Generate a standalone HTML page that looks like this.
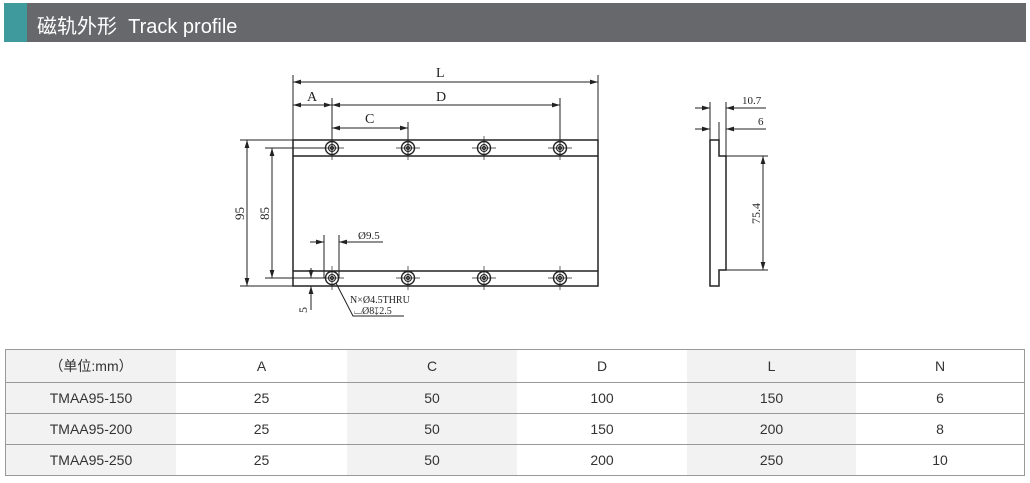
<!DOCTYPE html>
<html><head><meta charset="utf-8"><style>
body{margin:0;width:1030px;height:483px;background:#fff;overflow:hidden;position:relative;font-family:"Liberation Sans","Noto Sans CJK SC",sans-serif}
.bar{position:absolute;left:4px;top:3px;width:1022px;height:39px;background:#67686c}
.bar .t{position:absolute;left:0;top:0;width:23px;height:39px;background:#3e9a9c}
.bar span{position:absolute;left:33px;top:7px;color:#fff;font-size:20px}
table{position:absolute;left:5px;top:349px;width:1020px;border-collapse:collapse;font-size:14px;color:#333}
td{border-top:1px solid #999;border-bottom:1px solid #999;text-align:center;height:30px;padding:0}
tr:first-child td{height:32px}
table{border-left:1px solid #999;border-right:1px solid #999}
.g{background:#f2f2f2}
</style></head><body>
<div class="bar"><div class="t"></div><span>磁轨外形&nbsp; Track profile</span></div>
<svg width="1030" height="483" style="position:absolute;left:0;top:0" font-family="Liberation Serif,serif" font-size="11" fill="#222">
<defs><marker id="a" viewBox="0 0 10 6" refX="10" refY="3" markerWidth="8" markerHeight="5" orient="auto-start-reverse"><path d="M0,0L10,3L0,6z" fill="#222"/></marker>
<g id="h" stroke="#222" fill="none"><circle r="6.5" stroke-width="1.4"/><circle r="3.5" stroke-width="1.1"/><circle r="1.5"/><line x1="-12" y1="0" x2="12" y2="0" stroke-width="0.7"/><line x1="0" y1="-12" x2="0" y2="12" stroke-width="0.7"/></g>
</defs>
<g stroke="#222" stroke-width="1" fill="none">
<rect x="293" y="140" width="305" height="146" stroke-width="1.5"/>
<line x1="293" y1="156" x2="598" y2="156" stroke-width="1.5"/>
<line x1="293" y1="271" x2="598" y2="271" stroke-width="1.5"/>
<line x1="293" y1="75" x2="293" y2="140"/><line x1="598" y1="75" x2="598" y2="140"/>
<line x1="293" y1="82" x2="598" y2="82" marker-start="url(#a)" marker-end="url(#a)"/>
<line x1="293" y1="105" x2="332" y2="105" marker-start="url(#a)" marker-end="url(#a)"/>
<line x1="332" y1="105" x2="560" y2="105" marker-start="url(#a)" marker-end="url(#a)"/>
<line x1="332" y1="98" x2="332" y2="155"/><line x1="560" y1="98" x2="560" y2="155"/><line x1="408" y1="122" x2="408" y2="155"/>
<line x1="332" y1="128" x2="408" y2="128" marker-start="url(#a)" marker-end="url(#a)"/>
<line x1="240" y1="140" x2="293" y2="140"/><line x1="240" y1="286" x2="293" y2="286"/>
<line x1="247" y1="140" x2="247" y2="286" marker-start="url(#a)" marker-end="url(#a)"/>
<line x1="265" y1="148" x2="325" y2="148"/><line x1="265" y1="278" x2="325" y2="278"/>
<line x1="272" y1="148" x2="272" y2="278" marker-start="url(#a)" marker-end="url(#a)"/>
<line x1="324" y1="235" x2="324" y2="278"/><line x1="339" y1="235" x2="339" y2="278"/>
<line x1="310" y1="242" x2="324" y2="242" marker-end="url(#a)"/><line x1="383" y1="242" x2="339" y2="242" marker-end="url(#a)"/>
<line x1="311" y1="268" x2="311" y2="278" marker-end="url(#a)"/><line x1="311" y1="310" x2="311" y2="286" marker-end="url(#a)"/>
<polyline points="336,283 353,316 404,316"/>
<polygon points="710,140 719,140 719,156 726,156 726,270 719,270 719,286 710,286" stroke-width="1.5"/>
<line x1="710" y1="102" x2="710" y2="140"/><line x1="726" y1="102" x2="726" y2="156"/><line x1="719" y1="122" x2="719" y2="140"/>
<line x1="695" y1="108" x2="710" y2="108" marker-end="url(#a)"/><line x1="766" y1="108" x2="726" y2="108" marker-end="url(#a)"/>
<line x1="695" y1="129" x2="710" y2="129" marker-end="url(#a)"/><line x1="766" y1="129" x2="726" y2="129" marker-end="url(#a)"/>
<line x1="726" y1="156" x2="768" y2="156"/><line x1="726" y1="270" x2="768" y2="270"/>
<line x1="763" y1="156" x2="763" y2="270" marker-start="url(#a)" marker-end="url(#a)"/>
</g>
<use href="#h" x="332" y="148"/><use href="#h" x="408" y="148"/><use href="#h" x="484" y="148"/><use href="#h" x="560" y="148"/>
<use href="#h" x="332" y="278"/><use href="#h" x="408" y="278"/><use href="#h" x="484" y="278"/><use href="#h" x="560" y="278"/>
<g font-size="14">
<text x="436" y="77">L</text><text x="307" y="101">A</text><text x="436" y="101">D</text><text x="365" y="123">C</text>
</g>
<text transform="translate(244,220) rotate(-90)" font-size="13">95</text>
<text transform="translate(269,220) rotate(-90)" font-size="13">85</text>
<text x="358" y="239" font-size="11">Ø9.5</text>
<text transform="translate(307,313) rotate(-90)" font-size="12">5</text>
<text x="350" y="303" font-size="10">N×Ø4.5THRU</text>
<text x="354" y="314" font-size="10">⌴Ø8↧2.5</text>
<text x="742" y="104" font-size="11">10.7</text>
<text x="758" y="125" font-size="11">6</text>
<text transform="translate(760,224) rotate(-90)" font-size="12">75.4</text>
</svg>
<table>
<tr><td class="g" style="width:170px">（单位:mm）</td><td style="width:171px">A</td><td class="g" style="width:170px">C</td><td style="width:170px">D</td><td class="g" style="width:169px">L</td><td>N</td></tr>
<tr><td class="g">TMAA95-150</td><td>25</td><td class="g">50</td><td>100</td><td class="g">150</td><td>6</td></tr>
<tr><td class="g">TMAA95-200</td><td>25</td><td class="g">50</td><td>150</td><td class="g">200</td><td>8</td></tr>
<tr><td class="g">TMAA95-250</td><td>25</td><td class="g">50</td><td>200</td><td class="g">250</td><td>10</td></tr>
</table>
</body></html>
